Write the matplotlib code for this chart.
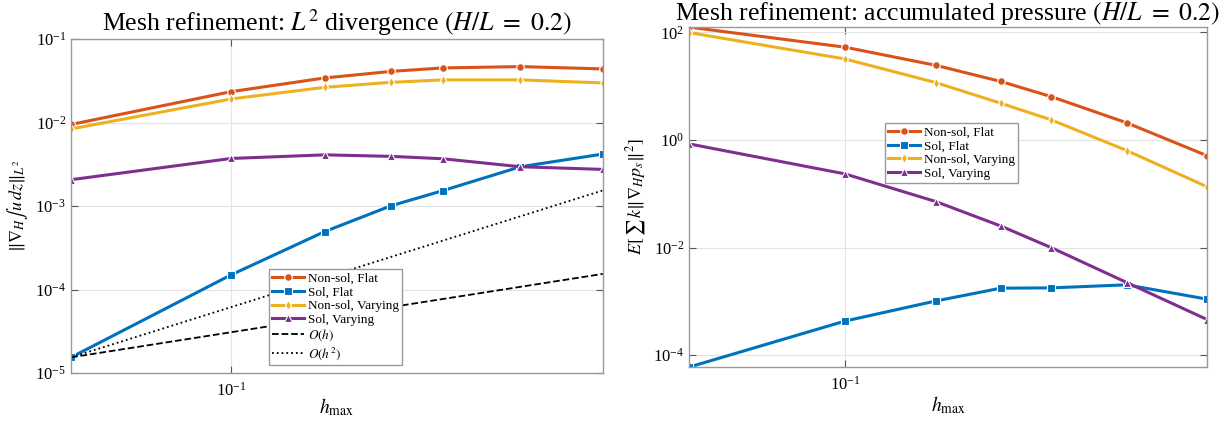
import matplotlib

matplotlib.use("Agg")
import matplotlib.pyplot as plt
import numpy as np
from matplotlib.ticker import FixedLocator, NullLocator, LogFormatterMathtext

plt.rcParams["font.family"] = ["Liberation Serif", "DejaVu Serif"]
plt.rcParams["mathtext.fontset"] = "stix"

# mesh sizes
h_max = [0.05, 0.1, 0.15, 0.2, 0.25, 0.35, 0.5]

# L2 divergence (left panel)
div_nonsol_flat = [0.0095, 0.0235, 0.0343, 0.0411, 0.0452, 0.0469, 0.0440]
div_sol_flat = [1.54e-5, 1.50e-4, 4.95e-4, 1.01e-3, 1.53e-3, 2.96e-3, 4.20e-3]
div_nonsol_vary = [0.0084, 0.0192, 0.0265, 0.0304, 0.0325, 0.0325, 0.0299]
div_sol_vary = [2.07e-3, 3.72e-3, 4.11e-3, 3.94e-3, 3.69e-3, 2.96e-3, 2.75e-3]

# accumulated pressure (right panel)
pr_nonsol_flat = [125.0, 53.0, 24.3, 12.2, 6.4, 2.08, 0.51]
pr_sol_flat = [6.0e-5, 4.3e-4, 1.02e-3, 1.76e-3, 1.78e-3, 2.03e-3, 1.10e-3]
pr_nonsol_vary = [99.0, 32.0, 11.6, 4.8, 2.37, 0.635, 0.135]
pr_sol_vary = [0.845, 0.234, 0.0713, 0.0251, 0.0100, 2.24e-3, 4.6e-4]

labels = ["Non-sol, Flat", "Sol, Flat", "Non-sol, Varying", "Sol, Varying"]
colors = ["#D95319", "#0072BD", "#EDB120", "#7E2F8E"]
markers = ["o", "s", "d", "^"]


def style_axes(ax, xpad):
    ax.set_xscale("log")
    ax.set_yscale("log")
    ax.set_xlim(0.05, 0.5)
    ax.xaxis.set_major_locator(FixedLocator([0.1]))
    ax.xaxis.set_major_formatter(LogFormatterMathtext())
    ax.xaxis.set_minor_locator(NullLocator())
    ax.yaxis.set_minor_locator(NullLocator())
    ax.grid(True, color="#e3e3e3", linewidth=0.8)
    ax.set_axisbelow(True)
    ax.tick_params(which="both", direction="in", top=True, right=True,
                   length=5, color="#555555", labelsize=12)
    ax.tick_params(axis="x", pad=6)
    for s in ax.spines.values():
        s.set_color("#999999")
        s.set_linewidth(1.0)
    ax.set_xlabel(r"$h_{\max}$", fontsize=14, labelpad=xpad)


def plot_series(ax, series):
    for ys, lab, c, m in zip(series, labels, colors, markers):
        ax.plot(h_max, ys, color=c, marker=m, linewidth=2.2, markersize=5.5,
                markeredgecolor="white", markeredgewidth=0.8, label=lab)


def add_legend(ax, x, y):
    leg = ax.legend(loc="upper left", bbox_to_anchor=(x, y),
                    bbox_transform=fig.transFigure, fontsize=9.5, fancybox=False,
                    edgecolor="#999999", framealpha=1, handlelength=2.4,
                    borderpad=0.25, labelspacing=0.12, handletextpad=0.3,
                    borderaxespad=0)
    leg.get_frame().set_linewidth(1.0)


fig = plt.figure(figsize=(12.31, 4.21), dpi=100)
ax1 = fig.add_axes([0.0577, 0.114, 0.432, 0.793])
ax2 = fig.add_axes([0.5597, 0.128, 0.4208, 0.8076])

# left panel
style_axes(ax1, xpad=-2)
plot_series(ax1, [div_nonsol_flat, div_sol_flat, div_nonsol_vary, div_sol_vary])
h = np.array(h_max)
ref = div_sol_flat[0]
ax1.plot(h, ref * h / h[0], "k--", linewidth=1.3, label=r"$O(h)$")
ax1.plot(h, ref * (h / h[0]) ** 2, "k:", linewidth=1.3, label=r"$O(h^2)$")
ax1.set_ylim(1e-5, 1e-1)
ax1.yaxis.set_major_locator(FixedLocator([1e-5, 1e-4, 1e-3, 1e-2, 1e-1]))
ax1.yaxis.set_major_formatter(LogFormatterMathtext())
ax1.set_ylabel(r"$\|\nabla_H \int u\, dz\|_{L^2}$", fontsize=13)
ax1.set_title(r"Mesh refinement: $L^2$ divergence $(H/L\ =\ 0.2)$", fontsize=18.5, pad=6)
add_legend(ax1, 0.2185, 0.361)

# right panel
style_axes(ax2, xpad=1)
plot_series(ax2, [pr_nonsol_flat, pr_sol_flat, pr_nonsol_vary, pr_sol_vary])
all_pr = np.concatenate([pr_nonsol_flat, pr_sol_flat, pr_nonsol_vary, pr_sol_vary])
ax2.set_ylim(all_pr.min(), all_pr.max())
ax2.yaxis.set_major_locator(FixedLocator([1e-4, 1e-2, 1e0, 1e2]))
ax2.yaxis.set_major_formatter(LogFormatterMathtext())
ax2.set_ylabel(r"$E[\,\sum\, k\|\nabla_H p_s\|^2]$", fontsize=13)
ax2.set_title(r"Mesh refinement: accumulated pressure $(H/L\ =\ 0.2)$", fontsize=18.5, pad=4)
add_legend(ax2, 0.719, 0.708)

fig.savefig("out.png", dpi=100)
